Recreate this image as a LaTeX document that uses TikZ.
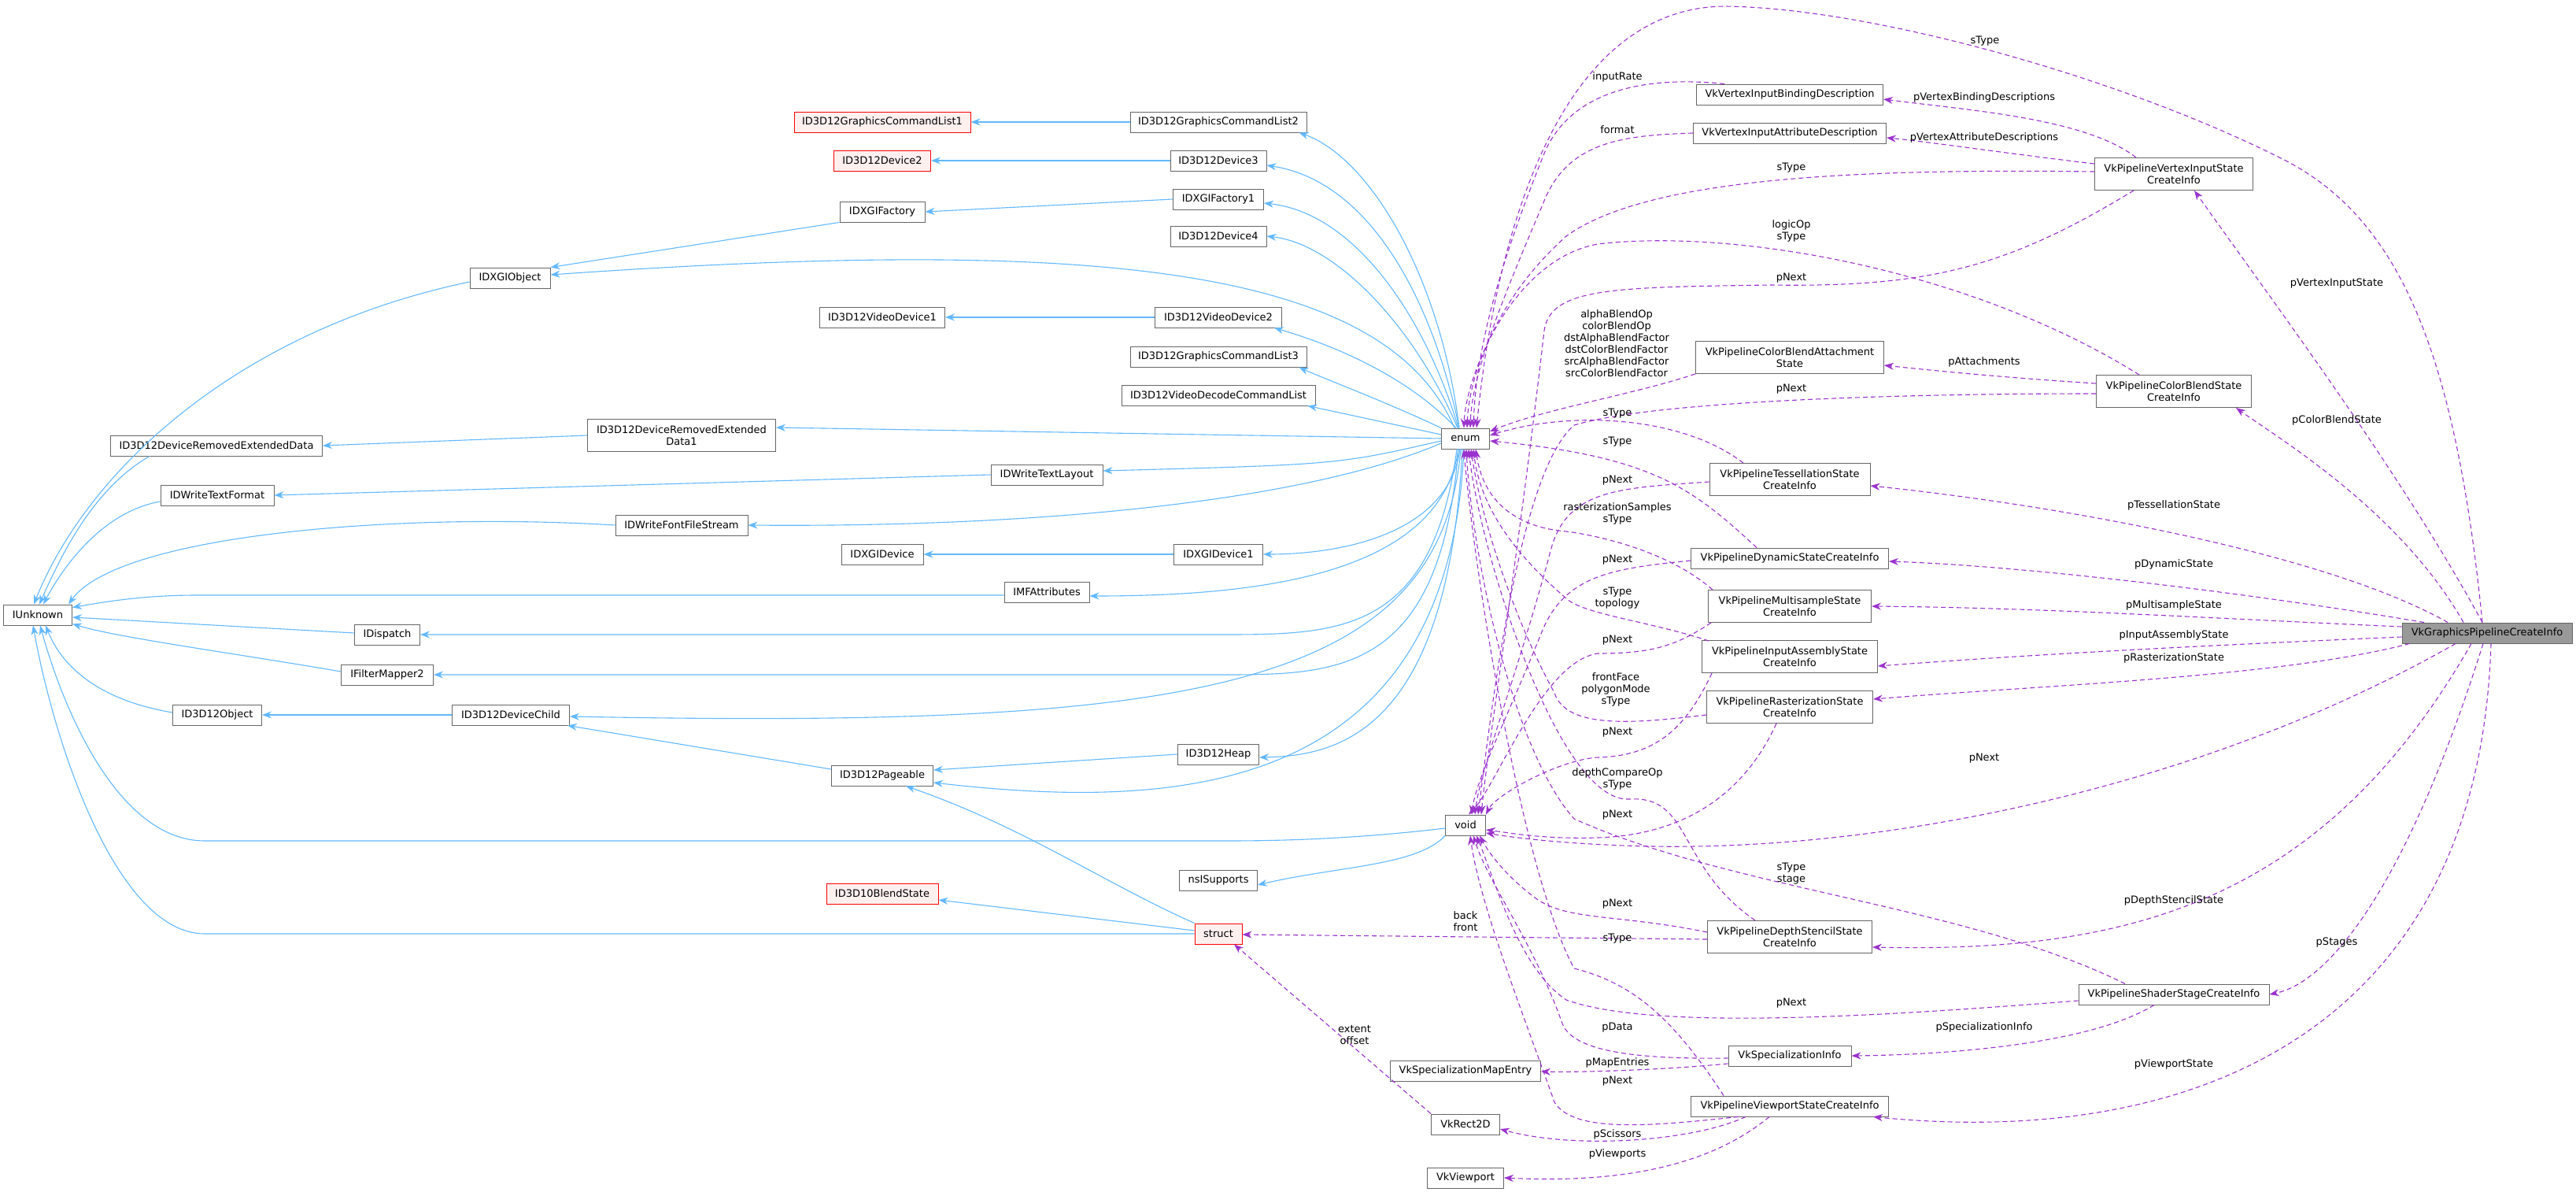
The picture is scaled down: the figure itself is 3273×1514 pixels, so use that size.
\documentclass[tikz,border=0pt]{standalone}
\usepackage{fontspec}
\setmainfont{DejaVu Sans}
\usetikzlibrary{arrows.meta}
\definecolor{inhc}{HTML}{63B8FF}
\definecolor{depc}{HTML}{9A32CD}
\definecolor{bord}{HTML}{666666}
\begin{document}
\begin{tikzpicture}[x=1pt,y=-1pt,
  every node/.style={font=\fontsize{13}{15}\selectfont},
  box/.style={draw=bord,fill=white,inner sep=0pt,minimum height=26pt,align=center,line width=0.9pt},
  box2/.style={box,minimum height=41pt},
  redb/.style={box,draw=red,fill=red!6},
  inh/.style={draw=inhc,line width=1.1pt,-{Stealth[length=12pt,width=9pt]}},
  dep/.style={draw=depc,line width=1.1pt,dash pattern=on 6pt off 4pt,-{Stealth[length=12pt,width=9pt]}},
  lbl/.style={align=center,inner sep=0pt}]
\useasboundingbox (0,0) rectangle (3273,1514);
% nodes
\node[redb,minimum width=224] (gcl1) at (1121,155) {ID3D12GraphicsCommandList1};
\node[box,minimum width=224] (gcl2) at (1548,155) {ID3D12GraphicsCommandList2};
\node[redb,minimum width=123] (dev2) at (1121,204) {ID3D12Device2};
\node[box,minimum width=122] (dev3) at (1548,204) {ID3D12Device3};
\node[box,minimum width=108] (fac) at (1121,269) {IDXGIFactory};
\node[box,minimum width=115] (fac1) at (1548,253) {IDXGIFactory1};
\node[box,minimum width=122] (dev4) at (1548,300) {ID3D12Device4};
\node[box,minimum width=102] (dxgiobj) at (648,353) {IDXGIObject};
\node[box,minimum width=159] (vd1) at (1121,403) {ID3D12VideoDevice1};
\node[box,minimum width=161] (vd2) at (1548,403) {ID3D12VideoDevice2};
\node[box,minimum width=224] (gcl3) at (1548,453) {ID3D12GraphicsCommandList3};
\node[box,minimum width=246] (vdcl) at (1548,502) {ID3D12VideoDecodeCommandList};
\node[box2,minimum width=239] (dred1) at (866,553) {ID3D12DeviceRemovedExtended\\Data1};
\node[box,minimum width=269] (dred) at (275,566) {ID3D12DeviceRemovedExtendedData};
\node[box,minimum width=142] (tl) at (1330,603) {IDWriteTextLayout};
\node[box,minimum width=144] (tf) at (276,629) {IDWriteTextFormat};
\node[box,minimum width=168] (ffs) at (866,667) {IDWriteFontFileStream};
\node[box,minimum width=104] (dxgidev) at (1121,704) {IDXGIDevice};
\node[box,minimum width=113] (dxgidev1) at (1548,704) {IDXGIDevice1};
\node[box,minimum width=108] (mfa) at (1330,752) {IMFAttributes};
\node[box,minimum width=61] (enum) at (1862,557) {enum};
\node[box,minimum width=87] (iunk) at (48,781) {IUnknown};
\node[box,minimum width=83] (disp) at (492,806) {IDispatch};
\node[box,minimum width=117] (fm2) at (492,857) {IFilterMapper2};
\node[box,minimum width=113] (d12obj) at (276,908) {ID3D12Object};
\node[box,minimum width=149] (child) at (649,908) {ID3D12DeviceChild};
\node[box,minimum width=103] (heap) at (1548,958) {ID3D12Heap};
\node[box,minimum width=129] (page) at (1121,985) {ID3D12Pageable};
\node[box,minimum width=51] (void) at (1862,1048) {void};
\node[box,minimum width=99] (nsis) at (1548,1118) {nsISupports};
\node[redb,minimum width=142] (bs10) at (1121,1135) {ID3D10BlendState};
\node[redb,minimum width=60] (struct) at (1548,1186) {struct};
\node[box,minimum width=191] (specme) at (1862,1360) {VkSpecializationMapEntry};
\node[box,minimum width=87] (rect) at (1862,1428) {VkRect2D};
\node[box,minimum width=97] (vp) at (1862,1496) {VkViewport};
\node[box,minimum width=237] (vibd) at (2274,120) {VkVertexInputBindingDescription};
\node[box,minimum width=245] (viad) at (2274,169) {VkVertexInputAttributeDescription};
\node[box2,minimum width=201] (visci) at (2762,221) {VkPipelineVertexInputState\\CreateInfo};
\node[box2,minimum width=239] (cbas) at (2274,454) {VkPipelineColorBlendAttachment\\State};
\node[box2,minimum width=197] (cbsci) at (2762,497) {VkPipelineColorBlendState\\CreateInfo};
\node[box2,minimum width=204] (tess) at (2274,609) {VkPipelineTessellationState\\CreateInfo};
\node[box,minimum width=251] (dyn) at (2274,709) {VkPipelineDynamicStateCreateInfo};
\node[box2,minimum width=207] (ms) at (2274,770) {VkPipelineMultisampleState\\CreateInfo};
\node[box,minimum width=216,fill=black!40] (gpci) at (3160,804) {VkGraphicsPipelineCreateInfo};
\node[box2,minimum width=223] (ia) at (2274,834) {VkPipelineInputAssemblyState\\CreateInfo};
\node[box2,minimum width=211] (rs) at (2274,898) {VkPipelineRasterizationState\\CreateInfo};
\node[box2,minimum width=209] (ds) at (2274,1190) {VkPipelineDepthStencilState\\CreateInfo};
\node[box,minimum width=242] (ss) at (2762,1263) {VkPipelineShaderStageCreateInfo};
\node[box,minimum width=156] (si) at (2274,1341) {VkSpecializationInfo};
\node[box,minimum width=251] (vps) at (2274,1405) {VkPipelineViewportStateCreateInfo};
% inheritance edges
\draw[inh] (gcl2) -- (gcl1);
\draw[inh] (dev3) -- (dev2);
\draw[inh] (fac1.west) -- (fac.east);
\draw[inh] (fac.south west) -- (dxgiobj.north east);
\draw[inh] (vd2) -- (vd1);
\draw[inh] (dred1.west) -- (dred.east);
\draw[inh] (tl.west) -- (tf.east);
\draw[inh] (dxgidev1) -- (dxgidev);
\draw[inh] (child) -- (d12obj);
\draw[inh] (heap.west) -- ([yshift=7pt]page.east);
\draw[inh] ([xshift=-8pt]enum.north) .. controls (1830,350) and (1740,200) .. ([xshift=-10pt]gcl2.south east);
\draw[inh] ([xshift=-8pt]enum.north) .. controls (1820,380) and (1740,230) .. ([yshift=-6pt]dev3.east);
\draw[inh] ([xshift=-9pt]enum.north) .. controls (1810,400) and (1720,270) .. ([yshift=-5pt]fac1.east);
\draw[inh] ([xshift=-10pt]enum.north) .. controls (1800,420) and (1700,310) .. (dev4.east);
\draw[inh] ([xshift=-14pt]enum.north) .. controls (1760,340) and (1400,300) .. ([yshift=4pt]dxgiobj.east);
\draw[inh] ([xshift=-12pt]enum.north) .. controls (1790,480) and (1700,440) .. ([xshift=-10pt]vd2.south east);
\draw[inh] (enum.north west) .. controls (1760,510) and (1680,480) .. ([xshift=-10pt]gcl3.south east);
\draw[inh] ([yshift=5pt]enum.west) -- ([xshift=-10pt]vdcl.south east);
\draw[inh] (enum.west) -- ([yshift=10pt]dred1.east);
\draw[inh] ([yshift=-3pt]enum.west) .. controls (1700,590) .. ([yshift=5pt]tl.east);
\draw[inh] ([yshift=-6pt]enum.west) .. controls (1650,640) and (1300,670) .. (ffs.east);
\draw[inh] ([xshift=-7pt]enum.south) .. controls (1840,680) and (1700,704) .. (dxgidev1.east);
\draw[inh] ([xshift=-9pt]enum.south) .. controls (1830,730) and (1600,757) .. ([yshift=-5pt]mfa.east);
\draw[inh] ([xshift=-11pt]enum.south) .. controls (1820,806) and (1700,806) .. (1550,806) -- (disp.east);
\draw[inh] ([xshift=-9pt]enum.south) .. controls (1830,857) and (1700,857) .. (1550,857) -- (fm2.east);
\draw[inh] ([xshift=-6pt]enum.south) .. controls (1830,880) and (1500,925) .. ([yshift=-2pt]child.east);
\draw[inh] ([xshift=-4pt]enum.south) .. controls (1840,930) and (1700,960) .. ([yshift=-4pt]heap.east);
\draw[inh] ([xshift=-2pt]enum.south) .. controls (1840,1010) and (1500,1030) .. ([yshift=-9pt]page.east);
\draw[inh] ([yshift=-5pt]dxgiobj.west) .. controls (300,420) and (110,600) .. ([xshift=-5pt]iunk.north);
\draw[inh] ([xshift=-85pt]dred.south) .. controls (120,620) and (80,700) .. ([xshift=2pt]iunk.north);
\draw[inh] ([yshift=-8pt]tf.west) .. controls (130,650) and (80,720) .. ([xshift=7pt]iunk.north);
\draw[inh] (ffs.west) .. controls (500,650) and (150,680) .. ([xshift=-5pt]iunk.north east);
\draw[inh] ([yshift=-4pt]mfa.west) -- (250,756) .. controls (180,756) and (130,765) .. ([yshift=-4pt]iunk.north east);
\draw[inh] ([yshift=2pt]disp.west) -- ([yshift=-3pt]iunk.east);
\draw[inh] ([yshift=4pt]fm2.west) .. controls (300,830) and (150,810) .. ([yshift=2pt]iunk.south east);
\draw[inh] ([yshift=3pt]d12obj.west) .. controls (130,890) and (80,850) .. ([xshift=10pt]iunk.south);
\draw[inh] (struct.west) -- (260,1186) .. controls (150,1186) and (70,950) .. ([xshift=-6pt]iunk.south);
\draw[inh] ([yshift=-4pt]void.west) .. controls (1700,1068) and (1600,1068) .. (1550,1068) -- (260,1068) .. controls (150,1068) and (80,900) .. ([xshift=3pt]iunk.south);
\draw[inh] (void.south west) .. controls (1800,1100) and (1700,1100) .. ([yshift=-6pt]nsis.east);
\draw[inh] ([yshift=4pt]struct.west) -- ([yshift=-8pt]bs10.east);
\draw[inh] (struct.north west) .. controls (1400,1120) and (1300,1050) .. ([xshift=30pt]page.south);
\draw[inh] ([yshift=8pt]page.west) -- ([xshift=-3pt]child.south east);
% dependency edges into enum
\draw[dep] ([xshift=-6pt]gpci.north) .. controls (3120,450) and (3050,280) .. (2904,204) .. controls (2700,100) and (2380,10) .. (2191,8) .. controls (1980,10) and (1900,300) .. ([xshift=14pt]enum.north);
\draw[dep] ([xshift=-83pt]vibd.north) .. controls (2080,95) and (1990,120) .. (1960,200) .. controls (1900,350) and (1875,450) .. ([xshift=10pt]enum.north);
\draw[dep] (viad.west) .. controls (2060,172) and (1990,180) .. (1960,260) .. controls (1900,400) and (1870,480) .. ([xshift=6pt]enum.north);
\draw[dep] ([yshift=3pt]visci.west) .. controls (2400,215) and (2100,220) .. (1990,300) .. controls (1900,380) and (1866,480) .. ([xshift=2pt]enum.north);
\draw[dep] ([xshift=-44pt]cbsci.north) .. controls (2500,340) and (2200,290) .. (2030,310) .. controls (1920,330) and (1862,480) .. ([xshift=-2pt]enum.north);
\draw[dep] (cbas.south west) .. controls (2080,500) and (1960,520) .. ([yshift=9pt]enum.east);
\draw[dep] ([xshift=-59pt]tess.north) .. controls (2140,530) and (2000,520) .. ([yshift=4pt]enum.east);
\draw[dep] ([xshift=-42pt]dyn.north) .. controls (2150,620) and (2100,580) .. ([yshift=-3pt]enum.east);
\draw[dep] ([xshift=-98pt]ms.north) .. controls (2120,700) and (2030,680) .. (1990,675) .. controls (1930,670) and (1885,640) .. ([xshift=13pt]enum.south);
\draw[dep] ([xshift=-103pt,yshift=-1pt]ia.north) .. controls (2100,790) and (2010,780) .. (1990,760) .. controls (1920,700) and (1880,640) .. ([xshift=10pt]enum.south);
\draw[dep] ([yshift=-10pt]rs.west) .. controls (2070,920) and (1990,925) .. (1975,880) .. controls (1920,780) and (1880,650) .. ([xshift=7pt]enum.south);
\draw[dep] ([xshift=-44pt]ds.north) .. controls (2130,1100) and (2150,1010) .. (2070,1015) .. controls (1980,1020) and (1880,700) .. ([xshift=4pt]enum.south);
\draw[dep] ([xshift=-62pt]ss.north) .. controls (2500,1150) and (2200,1130) .. (2000,1040) .. controls (1920,950) and (1870,700) .. ([xshift=1pt]enum.south);
\draw[dep] ([xshift=-84pt]vps.north) .. controls (2130,1300) and (2080,1250) .. (2000,1230) .. controls (1930,1100) and (1870,700) .. ([xshift=-2pt]enum.south);
% dependency edges into void
\draw[dep] ([xshift=50pt]visci.south west) .. controls (2550,340) and (2450,365) .. (2250,362) .. controls (2050,365) and (1970,365) .. (1962,420) .. controls (1930,700) and (1890,950) .. ([xshift=20pt]void.north);
\draw[dep] ([yshift=-3pt]cbsci.west) .. controls (2400,500) and (2100,510) .. (2000,540) .. controls (1930,600) and (1895,900) .. ([xshift=16pt]void.north);
\draw[dep] ([yshift=-3pt]tess.west) .. controls (2060,620) and (1990,620) .. (1970,700) .. controls (1930,850) and (1880,980) .. ([xshift=12pt]void.north);
\draw[dep] ([yshift=-3pt]dyn.west) .. controls (2050,722) and (1990,730) .. (1960,800) .. controls (1920,900) and (1875,990) .. ([xshift=8pt]void.north);
\draw[dep] ([xshift=4pt]ms.south west) .. controls (2130,820) and (2100,830) .. (2030,830) .. controls (1960,840) and (1900,1000) .. ([xshift=4pt]void.north);
\draw[dep] ([xshift=13pt]ia.south west) .. controls (2140,930) and (2100,960) .. (2030,962) .. controls (1980,965) and (1900,1010) .. (void.north east);
\draw[dep] ([xshift=-17pt]rs.south) .. controls (2220,1000) and (2150,1060) .. (2030,1064) .. controls (1960,1066) and (1920,1058) .. ([yshift=-6pt]void.east);
\draw[dep] ([xshift=-40pt]gpci.south) .. controls (2800,1000) and (2400,1080) .. (2100,1075) .. controls (2000,1073) and (1930,1065) .. ([yshift=-10pt]void.east);
\draw[dep] ([yshift=6pt]ds.west) .. controls (2050,1160) and (1990,1170) .. (1950,1140) .. controls (1910,1110) and (1890,1080) .. ([xshift=18pt]void.south);
\draw[dep] ([yshift=-8pt]ss.west) .. controls (2400,1290) and (2100,1310) .. (1990,1270) .. controls (1930,1230) and (1900,1120) .. ([xshift=14pt]void.south);
\draw[dep] ([yshift=-3pt]si.west) .. controls (2100,1345) and (2000,1340) .. (1985,1300) .. controls (1950,1200) and (1890,1120) .. ([xshift=10pt]void.south);
\draw[dep] ([xshift=61pt]vps.south west) .. controls (2100,1430) and (2000,1440) .. (1975,1400) .. controls (1940,1300) and (1880,1150) .. ([xshift=6pt]void.south);
% other dependency edges
\draw[dep] ([xshift=-48pt]visci.north) .. controls (2650,150) and (2500,140) .. ([yshift=-6pt]vibd.east);
\draw[dep] ([yshift=13pt]visci.west) .. controls (2550,195) and (2450,180) .. ([yshift=-6pt]viad.east);
\draw[dep] ([xshift=-6pt]gpci.north) .. controls (3050,600) and (2900,400) .. ([xshift=26pt]visci.south);
\draw[dep] ([yshift=10pt]cbsci.west) .. controls (2550,480) and (2450,470) .. ([yshift=-10pt]cbas.east);
\draw[dep] ([xshift=-30pt]gpci.north) .. controls (3050,650) and (2900,560) .. ([xshift=-20pt]cbsci.south east);
\draw[dep] ([xshift=-50pt]gpci.north) .. controls (2950,700) and (2600,640) .. ([yshift=-8pt]tess.east);
\draw[dep] ([xshift=-80pt]gpci.north) .. controls (2900,760) and (2600,720) .. ([yshift=-4pt]dyn.east);
\draw[dep] ([yshift=8pt]gpci.west) .. controls (2800,785) and (2600,772) .. (ms.east);
\draw[dep] ([yshift=-5pt]gpci.west) .. controls (2800,820) and (2600,830) .. ([yshift=-12pt]ia.east);
\draw[dep] ([xshift=10pt]gpci.south west) .. controls (2900,860) and (2600,870) .. ([yshift=10pt]rs.east);
\draw[dep] ([xshift=-20pt]gpci.south) .. controls (2950,1150) and (2700,1210) .. ([yshift=-13pt]ds.east);
\draw[dep] ([xshift=-5pt]gpci.south) .. controls (3050,1150) and (2950,1250) .. (ss.east);
\draw[dep] ([xshift=-25pt]ss.south) .. controls (2650,1330) and (2450,1340) .. (si.east);
\draw[dep] ([xshift=5pt]gpci.south) .. controls (3150,1300) and (2800,1460) .. ([xshift=-20pt]vps.south east);
\draw[dep] ([yshift=-10pt]si.west) .. controls (2100,1360) and (2000,1362) .. ([yshift=-1pt]specme.east);
\draw[dep] ([xshift=70pt]vps.south west) .. controls (2150,1450) and (2000,1460) .. ([yshift=-6pt]rect.east);
\draw[dep] ([xshift=100pt]vps.south west) .. controls (2150,1500) and (2000,1500) .. (vp.east);
\draw[dep] ([yshift=-3pt]ds.west) -- ([yshift=-1pt]struct.east);
\draw[dep] (rect.north west) -- ([xshift=20pt]struct.south);
% labels
\node[lbl] at (2522,52) {sType};
\node[lbl] at (2055,98) {inputRate};
\node[lbl] at (2521,124) {pVertexBindingDescriptions};
\node[lbl] at (2055,165) {format};
\node[lbl] at (2521,175) {pVertexAttributeDescriptions};
\node[lbl] at (2276,213) {sType};
\node[lbl] at (2276,293) {logicOp\\sType};
\node[lbl] at (2276,353) {pNext};
\node[lbl] at (2969,360) {pVertexInputState};
\node[lbl] at (2054,436) {alphaBlendOp\\colorBlendOp\\dstAlphaBlendFactor\\dstColorBlendFactor\\srcAlphaBlendFactor\\srcColorBlendFactor};
\node[lbl] at (2521,460) {pAttachments};
\node[lbl] at (2276,494) {pNext};
\node[lbl] at (2055,525) {sType};
\node[lbl] at (2969,534) {pColorBlendState};
\node[lbl] at (2055,561) {sType};
\node[lbl] at (2055,610) {pNext};
\node[lbl] at (2762,642) {pTessellationState};
\node[lbl] at (2055,652) {rasterizationSamples\\sType};
\node[lbl] at (2055,711) {pNext};
\node[lbl] at (2762,717) {pDynamicState};
\node[lbl] at (2055,760) {sType\\topology};
\node[lbl] at (2762,769) {pMultisampleState};
\node[lbl] at (2055,813) {pNext};
\node[lbl] at (2762,807) {pInputAssemblyState};
\node[lbl] at (2762,836) {pRasterizationState};
\node[lbl] at (2053,876) {frontFace\\polygonMode\\sType};
\node[lbl] at (2055,930) {pNext};
\node[lbl] at (2521,963) {pNext};
\node[lbl] at (2055,989) {depthCompareOp\\sType};
\node[lbl] at (2055,1035) {pNext};
\node[lbl] at (2276,1110) {sType\\stage};
\node[lbl] at (2762,1144) {pDepthStencilState};
\node[lbl] at (2055,1148) {pNext};
\node[lbl] at (1862,1170) {back\\front};
\node[lbl] at (2055,1192) {sType};
\node[lbl] at (2969,1197) {pStages};
\node[lbl] at (2276,1274) {pNext};
\node[lbl] at (2055,1305) {pData};
\node[lbl] at (2521,1305) {pSpecializationInfo};
\node[lbl] at (2055,1350) {pMapEntries};
\node[lbl] at (2762,1352) {pViewportState};
\node[lbl] at (2055,1373) {pNext};
\node[lbl] at (2055,1441) {pScissors};
\node[lbl] at (2055,1466) {pViewports};
\node[lbl] at (1721,1315) {extent\\offset};
\end{tikzpicture}
\end{document}
